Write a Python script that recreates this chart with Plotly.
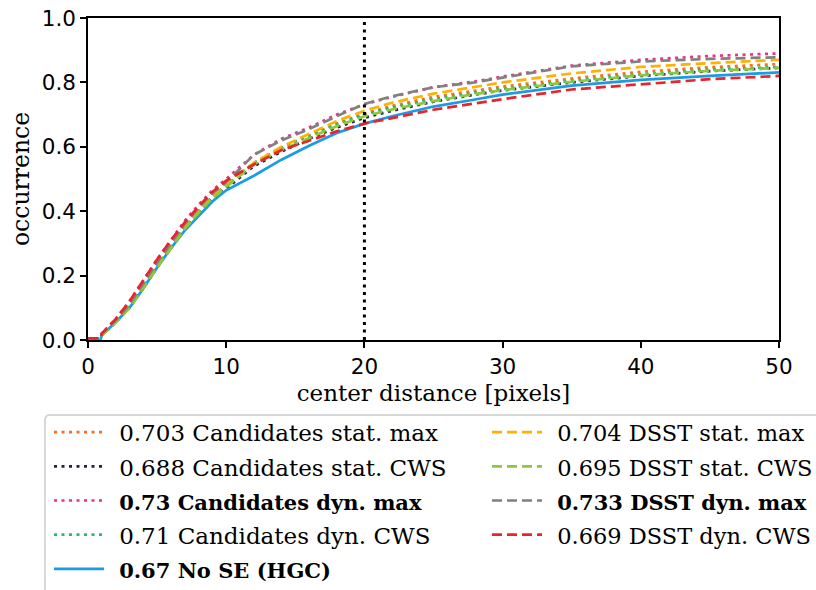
import plotly.graph_objects as go

# ---------------- data ----------------
x_dist = [0, 0.9, 1, 2, 3, 4, 5, 6, 7, 8, 9, 10, 12, 14, 16, 18, 20, 22, 25, 28, 30, 35, 40, 45, 50]

cand_stat_max = [0.005, 0.005, 0.015, 0.055, 0.105, 0.165, 0.23, 0.29, 0.35, 0.40, 0.445, 0.48, 0.55, 0.597, 0.635, 0.672, 0.703, 0.727, 0.755, 0.775, 0.787, 0.812, 0.833, 0.847, 0.857]
cand_stat_cws = [0.005, 0.005, 0.015, 0.055, 0.10, 0.16, 0.225, 0.285, 0.345, 0.395, 0.44, 0.47, 0.54, 0.585, 0.625, 0.66, 0.69, 0.712, 0.74, 0.762, 0.775, 0.80, 0.82, 0.835, 0.845]
cand_dyn_max = [0.005, 0.005, 0.02, 0.065, 0.12, 0.185, 0.25, 0.31, 0.37, 0.42, 0.465, 0.50, 0.575, 0.625, 0.66, 0.70, 0.732, 0.755, 0.785, 0.803, 0.818, 0.852, 0.87, 0.882, 0.89]
cand_dyn_cws = [0.005, 0.005, 0.015, 0.055, 0.105, 0.165, 0.23, 0.29, 0.35, 0.40, 0.445, 0.48, 0.55, 0.597, 0.635, 0.67, 0.70, 0.722, 0.748, 0.768, 0.78, 0.805, 0.825, 0.84, 0.848]
no_se_hgc = [0.0, 0.0, 0.015, 0.055, 0.10, 0.16, 0.225, 0.285, 0.34, 0.385, 0.43, 0.465, 0.51, 0.56, 0.603, 0.643, 0.672, 0.695, 0.725, 0.747, 0.762, 0.79, 0.808, 0.82, 0.831]
dsst_stat_max = [0.005, 0.005, 0.015, 0.055, 0.10, 0.165, 0.23, 0.29, 0.35, 0.40, 0.445, 0.48, 0.55, 0.60, 0.64, 0.68, 0.712, 0.737, 0.765, 0.787, 0.80, 0.828, 0.848, 0.86, 0.87]
dsst_stat_cws = [0.005, 0.005, 0.015, 0.055, 0.10, 0.16, 0.225, 0.285, 0.345, 0.395, 0.44, 0.475, 0.545, 0.59, 0.628, 0.664, 0.695, 0.716, 0.742, 0.764, 0.776, 0.802, 0.822, 0.836, 0.845]
dsst_dyn_max = [0.005, 0.005, 0.02, 0.06, 0.11, 0.175, 0.24, 0.30, 0.36, 0.41, 0.455, 0.49, 0.575, 0.62, 0.655, 0.695, 0.733, 0.757, 0.785, 0.80, 0.815, 0.85, 0.865, 0.873, 0.878]
dsst_dyn_cws = [0.005, 0.005, 0.02, 0.065, 0.12, 0.185, 0.25, 0.31, 0.365, 0.415, 0.46, 0.495, 0.545, 0.59, 0.618, 0.648, 0.672, 0.69, 0.715, 0.735, 0.748, 0.778, 0.795, 0.81, 0.82]

threshold = 20

x_ticks = [0, 10, 20, 30, 40, 50]
y_ticks = [0.0, 0.2, 0.4, 0.6, 0.8, 1.0]
y_tick_labels = ["0.0", "0.2", "0.4", "0.6", "0.8", "1.0"]

# (label, values, colour, style, bold, legend column)
series = [
    ("0.703 Candidates stat. max", cand_stat_max, "#ff6d1a", "dot", False, "legend"),
    ("0.688 Candidates stat. CWS", cand_stat_cws, "#2b1d4e", "dot", False, "legend"),
    ("0.73 Candidates dyn. max", cand_dyn_max, "#e5338c", "dot", True, "legend"),
    ("0.71 Candidates dyn. CWS", cand_dyn_cws, "#2fb96b", "dot", False, "legend"),
    ("0.67 No SE (HGC)", no_se_hgc, "#1a9be6", "solid", True, "legend"),
    ("0.704 DSST stat. max", dsst_stat_max, "#ffb000", "dash", False, "legend2"),
    ("0.695 DSST stat. CWS", dsst_stat_cws, "#8bc83a", "dash", False, "legend2"),
    ("0.733 DSST dyn. max", dsst_dyn_max, "#808080", "dash", True, "legend2"),
    ("0.669 DSST dyn. CWS", dsst_dyn_cws, "#e8242d", "dash", False, "legend2"),
]

DASHES = {"dot": "3px,4.5px", "dash": "10px,5px", "solid": "solid"}
TEXT_SIZE = {"legend": 23, "legend2": 22.5}
BOLD_SIZE = 21

W, H = 816, 590
ML, MR, MT, MB = 88, 37, 18, 250
PW, PH = W - ML - MR, H - MT - MB

fig = go.Figure()
for name, vals, color, dash, bold, leg in series:
    if bold:
        label = f'<span style="font-size:{BOLD_SIZE}px"><b>{name}</b></span>'
    else:
        label = f'<span style="font-size:{TEXT_SIZE[leg]}px">{name}</span>'
    fig.add_trace(go.Scatter(
        x=x_dist, y=vals, mode="lines", legend=leg,
        name=f'<span style="font-size:16px">\u00a0\u00a0</span>{label}',
        line=dict(color=color, width=2.7, dash=DASHES[dash]),
    ))

fig.add_trace(go.Scatter(
    x=[threshold, threshold], y=[0, 1], mode="lines", showlegend=False,
    line=dict(color="black", width=3, dash="3px,4.5px"),
))

axis_common = dict(
    showline=True, linecolor="black", linewidth=1.5, mirror=True,
    ticks="outside", ticklen=6, tickwidth=1.5, tickcolor="black",
    showgrid=False, zeroline=False, automargin=False,
    ticklabeloverflow="allow",
    tickfont=dict(family="DejaVu Sans", size=21.5, color="black"),
)


def px2paper_x(px):
    return (px - ML) / PW


def px2paper_y(py):
    return (MT + PH - py) / PH


# legend frame (figure px -> paper coords)
bx0, bx1 = px2paper_x(45), px2paper_x(830)
by0, by1 = px2paper_y(415), px2paper_y(630)
rx, ry = 5 / PW, 5 / PH
frame_path = (f"M{bx0},{by1} L{bx0},{by0 - ry} Q{bx0},{by0} {bx0 + rx},{by0} "
              f"L{bx1},{by0} L{bx1},{by1} Z")

legend_common = dict(
    orientation="v", xref="paper", yref="container",
    xanchor="left", yanchor="top", itemwidth=50, maxheight=400,
    font=dict(family="DejaVu Serif", size=24, color="black"),
    bgcolor="rgba(0,0,0,0)", borderwidth=0,
)

fig.update_layout(
    width=W, height=H,
    margin=dict(l=ML, r=MR, t=MT, b=MB, autoexpand=False),
    paper_bgcolor="white", plot_bgcolor="white",
    xaxis=dict(range=[0, 50], tickvals=x_ticks,
               title=dict(text="center distance [pixels]",
                          font=dict(family="DejaVu Serif", size=23, color="black"),
                          standoff=7),
               **axis_common),
    yaxis=dict(range=[0, 1], tickvals=y_ticks, ticktext=y_tick_labels,
               title=dict(text="occurrence",
                          font=dict(family="DejaVu Serif", size=23.5, color="black"),
                          standoff=6),
               **axis_common),
    legend=dict(x=px2paper_x(49), y=1 - 410 / H, **legend_common),
    legend2=dict(x=px2paper_x(487), y=1 - 410 / H, **legend_common),
    shapes=[dict(type="path", xref="paper", yref="paper", path=frame_path,
                 line=dict(color="#cccccc", width=1.5), fillcolor="white",
                 layer="below")],
    showlegend=True,
)

fig.write_html(
    "out.html",
    config={"displayModeBar": False},
    post_script="document.body.style.margin='0';document.body.style.overflow='hidden';",
)
